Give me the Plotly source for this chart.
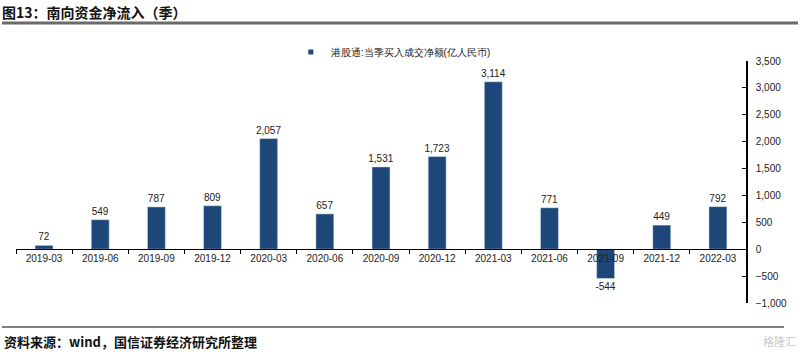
import plotly.graph_objects as go

categories = ["2019-03", "2019-06", "2019-09", "2019-12", "2020-03", "2020-06", "2020-09",
              "2020-12", "2021-03", "2021-06", "2021-09", "2021-12", "2022-03"]
values = [72, 549, 787, 809, 2057, 657, 1531, 1723, 3114, 771, -544, 449, 792]
series_name = "港股通:当季买入成交净额(亿人民币)"
y_ticks = [-1000, -500, 0, 500, 1000, 1500, 2000, 2500, 3000, 3500]
y_min, y_max = -1000, 3500

BAR = "#1C4778"
LBL = "Liberation Sans, Arial, sans-serif"
CJK = "Noto Sans CJK SC, sans-serif"

fig = go.Figure()
fig.add_trace(go.Bar(
    x=categories, y=values, name=series_name, marker_color=BAR, width=0.32,
    text=[f"{v:,}" for v in values], textposition="outside", constraintext="none",
    textfont=dict(family=LBL, size=10, color="#222"), cliponaxis=False,
    showlegend=False,
))
# legend-only entry with a small square marker
fig.add_trace(go.Scatter(
    x=[None], y=[None], mode="markers", name=series_name,
    marker=dict(symbol="square", size=5, color=BAR), showlegend=True,
))

fig.update_layout(
    width=800, height=354,
    margin=dict(l=16, r=54, t=61, b=51),
    paper_bgcolor="white", plot_bgcolor="white",
    showlegend=True,
    legend=dict(x=0.397, y=1 + 9/242, xanchor="left", yanchor="middle", orientation="h",
                font=dict(family=LBL, size=10, color="#222"), itemwidth=30,
                bgcolor="rgba(0,0,0,0)", indentation=-15, itemsizing="trace"),
    xaxis=dict(
        type="category", anchor="free", position=(0 - y_min) / (y_max - y_min),
        showline=True, linecolor="#000", linewidth=1,
        ticks="outside", tickson="boundaries", ticklen=4, tickcolor="#000",
        tickfont=dict(family=LBL, size=10, color="#222"),
        showgrid=False, zeroline=False,
    ),
    yaxis=dict(
        side="right", range=[y_min, y_max], tickvals=y_ticks,
        tickformat=",d", showline=True, linecolor="#000", linewidth=1.5,
        ticks="inside", ticklen=4, tickcolor="#000",
        tickfont=dict(family=LBL, size=10, color="#222"),
        showgrid=False, zeroline=False, ticklabelstandoff=6,
    ),
    bargap=0.68,
)

# title and footer
fig.add_annotation(text="<b>图13：南向资金净流入（季）</b>", xref="paper", yref="paper",
                   x=-16/730, y=1 + 49/242, xanchor="left", yanchor="middle", showarrow=False,
                   font=dict(family=CJK, size=14, color="#111"))
fig.add_shape(type="line", xref="paper", yref="paper", x0=-14/730, x1=1 + 52/730,
              y0=1 + 38/242, y1=1 + 38/242, line=dict(color="#6b6b6b", width=3))
fig.add_shape(type="line", xref="paper", yref="paper", x0=-14/730, x1=1 + 38/730,
              y0=-24/242, y1=-24/242, line=dict(color="#000", width=1))
fig.add_annotation(text="<b>资料来源：wind，国信证券经济研究所整理</b>", xref="paper", yref="paper",
                   x=-14/730, y=-38/242, xanchor="left", yanchor="middle", showarrow=False,
                   font=dict(family=CJK, size=13, color="#111"))
fig.add_annotation(text="格隆汇", xref="paper", yref="paper",
                   x=1 + 52/730, y=-38/242, xanchor="right", yanchor="middle", showarrow=False,
                   font=dict(family=CJK, size=11, color="#c8c8c8"))

fig.write_html("out.html")
